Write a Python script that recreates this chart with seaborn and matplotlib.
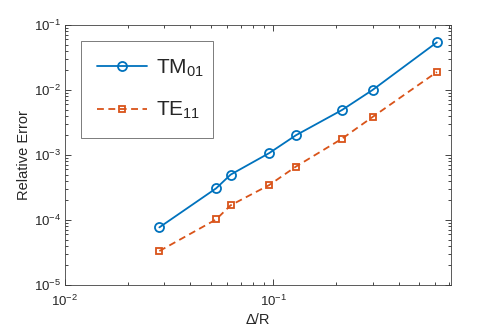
import numpy as np
import pandas as pd
import matplotlib
matplotlib.use('Agg')
from matplotlib import pyplot as plt
from matplotlib.ticker import LogLocator, NullFormatter
import seaborn as sns

# mesh size over radius
delta_r = [0.0284, 0.0532, 0.0624, 0.0957, 0.1285, 0.214, 0.300, 0.611]
# relative error per mode
err_tm01 = [7.7e-5, 3.07e-4, 4.98e-4, 1.07e-3, 2.01e-3, 4.92e-3, 1.0e-2, 5.41e-2]
err_te11 = [3.33e-5, 1.02e-4, 1.68e-4, 3.45e-4, 6.62e-4, 1.78e-3, 3.84e-3, 1.89e-2]
labels = ['TM$_{01}$', 'TE$_{11}$']

sns.set_style('ticks')
plt.rcParams['font.family'] = ['Liberation Sans', 'DejaVu Sans']
plt.rcParams['mathtext.fontset'] = 'custom'
plt.rcParams['mathtext.rm'] = 'Liberation Sans'
plt.rcParams['mathtext.it'] = 'Liberation Sans:italic'
plt.rcParams['mathtext.default'] = 'regular'

blue = '#0072BD'
orange = '#D95319'
frame = '#262626'

fig = plt.figure(figsize=(4.98, 3.31), dpi=100)
ax = fig.add_axes([0.1305, 0.139, 0.775, 0.7855])

sns.lineplot(x=delta_r, y=err_tm01, ax=ax, color=blue, lw=1.3,
             marker='o', markersize=6.5, markerfacecolor='none',
             markeredgecolor=blue, markeredgewidth=1.3, label=labels[0])
sns.lineplot(x=delta_r, y=err_te11, ax=ax, color=orange, lw=1.3,
             linestyle=(0, (3.8, 2.5)),
             marker='s', markersize=5, markerfacecolor='none',
             markeredgecolor=orange, markeredgewidth=1.3, label=labels[1])

ax.set_xscale('log')
ax.set_yscale('log')
ax.set_xlim(0.01, 0.714)
ax.set_ylim(1e-5, 1e-1)
ax.xaxis.set_minor_locator(LogLocator(base=10, subs=np.arange(2, 10)))
ax.yaxis.set_minor_locator(LogLocator(base=10, subs=np.arange(2, 10)))
ax.xaxis.set_minor_formatter(NullFormatter())
ax.yaxis.set_minor_formatter(NullFormatter())
ax.tick_params(which='both', direction='in', top=True, right=True,
               colors=frame, labelsize=9.5, width=0.6)
ax.tick_params(which='major', length=4)
ax.tick_params(which='minor', length=2)
ax.tick_params(axis='x', pad=6)
ax.tick_params(axis='y', pad=3)
for s in ax.spines.values():
    s.set_color('#404040')
    s.set_linewidth(0.6)

ax.set_xlabel('Δ/R', fontsize=10.5, color=frame, labelpad=3)
ax.set_ylabel('Relative Error', fontsize=10.5, color=frame, labelpad=2)

leg = ax.legend(loc='upper left', bbox_to_anchor=(0.041, 0.938, 0.342, 0.0),
                mode='expand', borderaxespad=0, fontsize=15,
                frameon=True, fancybox=False, edgecolor='#404040',
                handlelength=2.4, labelspacing=1.0, borderpad=0.8,
                handletextpad=0.4)
leg.get_frame().set_linewidth(0.6)

plt.savefig('out.png', dpi=100)
